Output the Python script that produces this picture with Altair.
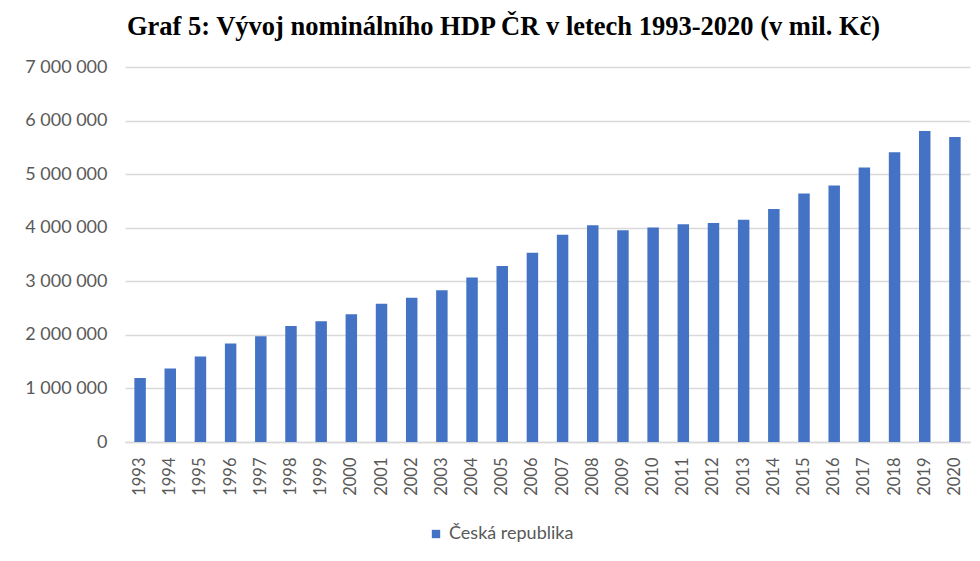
import altair as alt
import pandas as pd

years = [str(y) for y in range(1993, 2021)]
gdp = [1195000, 1370000, 1594000, 1837000, 1973000, 2165000, 2253000, 2384000,
       2583000, 2695000, 2832000, 3069000, 3285000, 3535000, 3871000, 4045000,
       3952000, 4002000, 4064000, 4088000, 4151000, 4349000, 4637000, 4786000,
       5122000, 5408000, 5806000, 5694000]
series_name = "Česká republika"
y_ticks = [0, 1000000, 2000000, 3000000, 4000000, 5000000, 6000000, 7000000]
title_text = "Graf 5: Vývoj nominálního HDP ČR v letech 1993-2020 (v mil. Kč)"

df = pd.DataFrame({"rok": years, "hdp": gdp, "serie": [series_name] * len(years)})

FONT = "Lato"
GRAY = "#595959"

chart = alt.Chart(df).mark_bar().encode(
    x=alt.X("rok:N", sort=years,
            scale=alt.Scale(paddingInner=0.62, paddingOuter=0.31),
            axis=alt.Axis(title=None, labelAngle=-90, labelAlign="right",
                          labelBaseline="middle", labelPadding=15, ticks=False,
                          labelFont=FONT, labelFontSize=16.5, labelColor=GRAY,
                          domainColor="#D9D9D9", domainWidth=1.5)),
    y=alt.Y("hdp:Q", scale=alt.Scale(domain=[0, 7000000], nice=False),
            axis=alt.Axis(title=None, values=y_ticks, ticks=False, domain=False,
                          labelPadding=18, labelFont=FONT, labelFontSize=18,
                          labelColor=GRAY, gridColor="#D9D9D9", gridWidth=1.5,
                          labelExpr="replace(format(datum.value, ','), regexp(',', 'g'), ' ')")),
    color=alt.Color("serie:N", scale=alt.Scale(range=["#4472C4"]),
                    legend=alt.Legend(title=None, orient="none", legendX=302, legendY=458,
                                      symbolType="square", symbolSize=70,
                                      symbolStrokeWidth=0, labelFont=FONT,
                                      labelFontSize=18, labelColor=GRAY,
                                      labelOffset=4, padding=0)),
).properties(
    width=845,
    height=375,
    title=alt.TitleParams(title_text, font="Liberation Serif", fontSize=26.5,
                          fontWeight="bold", color="#000000", anchor="middle",
                          dx=-44, offset=18),
    autosize=alt.AutoSizeParams(type="none"),
    padding={"left": 117, "top": 59, "right": 2, "bottom": 100},
).configure_view(stroke=None)

chart.save("out.html", embed_options={"renderer": "svg", "actions": False})
